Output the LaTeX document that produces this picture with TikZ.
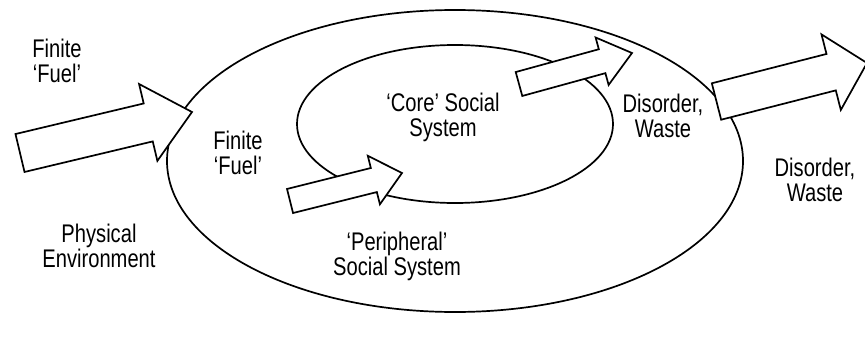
\documentclass[tikz,border=0pt]{standalone}
\usepackage{fontspec}
\setmainfont[FakeStretch=0.79]{Liberation Sans}
\usetikzlibrary{calc,shapes.geometric}
\newcommand\blockarrow[5]{% tail, tip, shaft half width, head half width, head length
  \coordinate (ba-c) at ($(#2)!#5!(#1)$);
  \draw[blk] ($(#1)!#3!90:(#2)$) -- ($(ba-c)!#3!90:(#2)$) -- ($(ba-c)!#4!90:(#2)$)
    -- (#2) -- ($(ba-c)!#4!-90:(#2)$) -- ($(ba-c)!#3!-90:(#2)$)
    -- ($(#1)!#3!-90:(#2)$) -- cycle;}
\begin{document}
\begin{tikzpicture}[x=1pt,y=-1pt,line width=1.7pt,line join=miter,
  lbl/.style={font=\fontsize{25.5}{25}\selectfont,align=center,inner sep=0pt},
  blk/.style={draw=black,fill=white},
  oval/.style={draw=black,ellipse,inner sep=0pt}]
\useasboundingbox (0,0) rectangle (865,340);
\clip (0,0) rectangle (865,340);
% ellipses
\node[oval,minimum width=576pt,minimum height=302pt] (outer) at (455,161) {};
\node[oval,minimum width=316pt,minimum height=158pt] (inner) at (455,124) {};
% arrow end points
\coordinate (inA) at (20,153);   \coordinate (inB) at (192,112);
\coordinate (cinA) at (290,201); \coordinate (cinB) at (402,173);
\coordinate (coutA) at (519,84); \coordinate (coutB) at (632,53);
\coordinate (outA) at (716.5,101.5); \coordinate (outB) at (867,63);
\blockarrow{inA}{inB}{19.5pt}{39.5pt}{45pt}
\blockarrow{cinA}{cinB}{12.4pt}{25pt}{29pt}
\blockarrow{coutA}{coutB}{12.4pt}{24.6pt}{31pt}
\blockarrow{outA}{outB}{18.8pt}{39pt}{37pt}
% labels
\node[lbl] (fuelout) at (57,61) {Finite\\‘Fuel’};
\node[lbl] (fuelin) at (238,153) {Finite\\‘Fuel’};
\node[lbl] (core) at (443,117) {‘Core’ Social\\System};
\node[lbl] (disin) at (663,116) {Disorder,\\Waste};
\node[lbl] (disout) at (815,180) {Disorder,\\Waste};
\node[lbl] (phys) at (99,246) {Physical\\Environment};
\node[lbl] (peri) at (397,256) {‘Peripheral’\\Social System};
\end{tikzpicture}
\end{document}
